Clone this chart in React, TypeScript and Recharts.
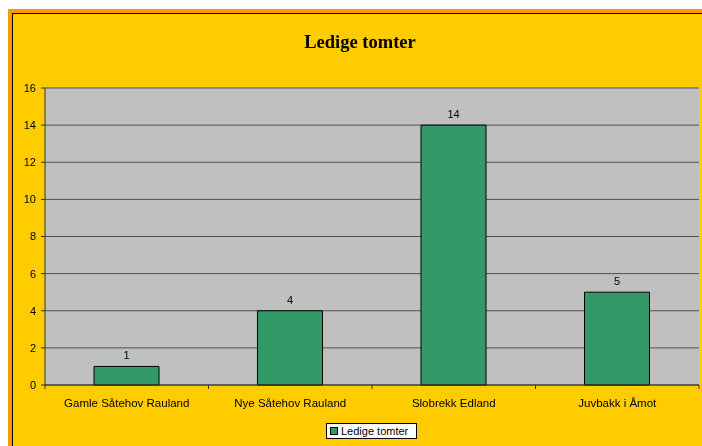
import { Bar, BarChart, CartesianGrid, LabelList, Legend, XAxis, YAxis } from 'recharts'

const categories = ['Gamle Såtehov Rauland', 'Nye Såtehov Rauland', 'Slobrekk Edland', 'Juvbakk i Åmot']
const ledigeTomter = [1, 4, 14, 5]
const yTicks = [0, 2, 4, 6, 8, 10, 12, 14, 16]
const seriesName = 'Ledige tomter'
const chartTitle = 'Ledige tomter'

const data = categories.map((name, i) => ({ name, value: ledigeTomter[i] }))

const FONT = '"Liberation Sans", Arial, sans-serif'
const BAR_GREEN = '#339966'

type TickProps = {
  x: number
  y: number
  index: number
  payload: { value: string; offset?: number }
}

function CategoryTick({ x, y, index, payload }: TickProps) {
  const half = payload.offset ?? 81.75
  const axisY = y - 6
  return (
    <g>
      <line x1={x - half} x2={x - half} y1={axisY} y2={axisY + 4} stroke="#333" />
      {index === categories.length - 1 && (
        <line x1={x + half} x2={x + half} y1={axisY} y2={axisY + 4} stroke="#333" />
      )}
      <text x={x} y={axisY + 22} textAnchor="middle" fontFamily={FONT} fontSize={11.5} fill="#000">
        {payload.value}
      </text>
    </g>
  )
}

function LegendBox() {
  return (
    <div
      style={{
        boxSizing: 'border-box',
        width: 91,
        height: 16,
        background: '#fff',
        border: '1px solid #000',
        display: 'flex',
        alignItems: 'center',
        paddingLeft: 3,
        fontFamily: FONT,
        fontSize: 11,
        color: '#000',
      }}
    >
      <span
        style={{
          display: 'inline-block',
          width: 6,
          height: 6,
          background: BAR_GREEN,
          border: '1px solid #000',
          marginRight: 3,
        }}
      />
      {seriesName}
    </div>
  )
}

export default function App() {
  return (
    <div style={{ position: 'fixed', left: 8, top: 8, width: 694, height: 438, overflow: 'hidden' }}>
      <div
        style={{
          position: 'absolute',
          left: 0,
          top: 1,
          width: 712,
          height: 460,
          boxSizing: 'border-box',
          border: '4px solid #FF9900',
        }}
      >
        <div style={{ height: '100%', boxSizing: 'border-box', border: '1px solid #000', background: '#FFCC00' }} />
      </div>
      <div
        style={{
          position: 'absolute',
          left: 0,
          top: 25,
          width: 704,
          textAlign: 'center',
          fontFamily: '"Liberation Serif", "Times New Roman", serif',
          fontWeight: 'bold',
          fontSize: 18.5,
          lineHeight: '18px',
          color: '#000',
        }}
      >
        {chartTitle}
      </div>
      <div style={{ position: 'absolute', left: 0, top: 0 }}>
        <BarChart width={712} height={460} data={data} margin={{ top: 80, right: 21, bottom: 53, left: 7 }} barSize={65}>
          <CartesianGrid fill="#C0C0C0" vertical={false} stroke="#505050" strokeWidth={1} />
          <XAxis
            dataKey="name"
            height={30}
            interval={0}
            tickLine={false}
            tickSize={4}
            tickMargin={2}
            axisLine={{ stroke: '#333' }}
            tick={(props: TickProps) => <CategoryTick {...props} />}
          />
          <YAxis
            width={30}
            domain={[0, 16]}
            ticks={yTicks}
            interval={0}
            tickSize={4}
            tickMargin={5}
            axisLine={{ stroke: '#333' }}
            tickLine={{ stroke: '#333' }}
            tick={{ fontFamily: FONT, fontSize: 11, fill: '#000' }}
          />
          <YAxis yAxisId="frame" orientation="right" width={0} tick={false} tickLine={false} axisLine={{ stroke: '#808080' }} />
          <Legend
            verticalAlign="middle"
            align="center"
            wrapperStyle={{ left: 318, top: 415, width: 91, height: 16 }}
            content={() => <LegendBox />}
          />
          <Bar dataKey="value" name={seriesName} fill={BAR_GREEN} stroke="#000" strokeWidth={1} isAnimationActive={false}>
            <LabelList dataKey="value" position="top" offset={7} fill="#000" fontFamily={FONT} fontSize={11} />
          </Bar>
        </BarChart>
      </div>
    </div>
  )
}
